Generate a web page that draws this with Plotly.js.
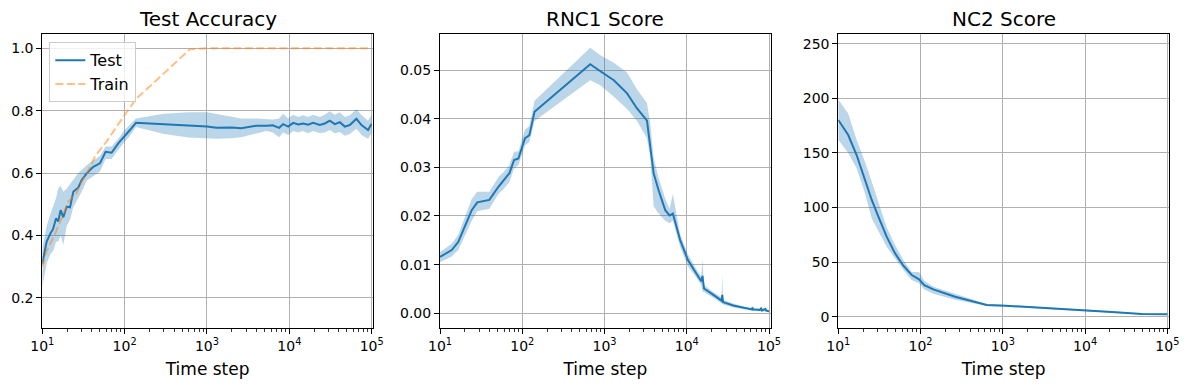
<!DOCTYPE html>
<html>
<head>
<meta charset="utf-8">
<script src="https://cdn.plot.ly/plotly-3.0.1.min.js"></script>
<style>html,body{margin:0;padding:0;background:#fff;}#chart{width:1189px;height:390px;}</style>
</head>
<body>
<div id="chart"></div>
<script>
// ---------- Data ----------
// Panel 1: Test Accuracy
const accSteps = [10, 11.3, 12.6, 13.5, 14.7, 15.6, 16.7, 18.0, 19.8, 21.7, 23.8, 27.4, 30.1, 34.6, 41.6, 50.1, 58.7, 69.5, 83.6, 101, 116, 137,
  300, 600, 1000, 1300, 2000, 2600, 4000, 5300, 6300, 7520, 8410, 9690, 11130, 12790, 14700, 16900, 19440, 23440, 26970, 30990,
  35640, 41000, 47170, 54210, 65330, 75130, 90400, 99500];
const accTest = [0.31, 0.38, 0.407, 0.42, 0.455, 0.445, 0.481, 0.458, 0.492, 0.49, 0.54, 0.554, 0.578, 0.599, 0.62, 0.631, 0.668, 0.665, 0.695, 0.722, 0.738, 0.761,
  0.757, 0.752, 0.749, 0.745, 0.746, 0.744, 0.752, 0.752, 0.753, 0.745, 0.757, 0.749, 0.761, 0.756, 0.759, 0.755, 0.761, 0.754, 0.759, 0.768,
  0.757, 0.763, 0.749, 0.754, 0.774, 0.754, 0.738, 0.757];
const accTestLo = [0.235, 0.31, 0.34, 0.35, 0.38, 0.38, 0.40, 0.37, 0.43, 0.45, 0.49, 0.52, 0.54, 0.575, 0.59, 0.605, 0.645, 0.645, 0.675, 0.70, 0.72, 0.748,
  0.725, 0.714, 0.711, 0.71, 0.712, 0.715, 0.727, 0.735, 0.73, 0.715, 0.73, 0.722, 0.735, 0.73, 0.735, 0.728, 0.735, 0.728, 0.73, 0.738,
  0.728, 0.732, 0.72, 0.725, 0.742, 0.722, 0.71, 0.728];
const accTestHi = [0.36, 0.43, 0.47, 0.49, 0.52, 0.55, 0.56, 0.54, 0.55, 0.565, 0.58, 0.60, 0.61, 0.625, 0.64, 0.655, 0.685, 0.685, 0.71, 0.74, 0.755, 0.775,
  0.79, 0.795, 0.795, 0.79, 0.782, 0.775, 0.775, 0.772, 0.772, 0.775, 0.79, 0.775, 0.787, 0.78, 0.785, 0.78, 0.787, 0.78, 0.787, 0.798,
  0.787, 0.795, 0.78, 0.785, 0.805, 0.786, 0.768, 0.786];
const trainSteps = [10, 11.3, 14, 17, 21, 26, 29, 35, 44, 60, 76, 98, 121.6, 140, 200, 300, 450, 620, 1000, 3000, 10000, 30000, 100000];
const accTrain = [0.30, 0.35, 0.40, 0.45, 0.51, 0.535, 0.565, 0.60, 0.655, 0.70, 0.738, 0.783, 0.818, 0.84, 0.877, 0.92, 0.963, 0.997, 1.0, 1.0, 1.0, 1.0, 1.0];

// Panel 2: RNC1 Score
const rncSteps = [10, 13.9, 16.7, 20.1, 24.3, 28.4, 39.8, 51.3, 59, 69.8, 79.5, 89.8, 108, 122, 141, 670, 900, 1297, 1880, 2485, 3280, 3600, 3950,
  4540, 5470, 6170, 6770, 8290, 10280, 12600, 15000, 15500, 16200, 21040, 26500, 27000, 27600, 36700, 48500, 62000, 63000, 64000, 77000,
  80000, 82000, 90000, 92000, 100000];
const rncMean = [0.0116, 0.0130, 0.0147, 0.0178, 0.0212, 0.0228, 0.0233, 0.0260, 0.0272, 0.0288, 0.0315, 0.0318, 0.0360, 0.0366, 0.0414, 0.0512, 0.0497, 0.0479, 0.0452, 0.0421, 0.0396, 0.0342, 0.0288,
  0.0253, 0.0212, 0.0201, 0.0205, 0.0151, 0.0110, 0.0086, 0.0066, 0.0077, 0.0051, 0.0038, 0.0026, 0.0038, 0.0023, 0.0016, 0.0011, 0.0008, 0.0012, 0.0008, 0.0007,
  0.0010, 0.0006, 0.0009, 0.0006, 0.0004];
const rncLo = [0.0105, 0.0117, 0.0130, 0.0158, 0.0190, 0.0210, 0.0215, 0.0245, 0.0255, 0.0270, 0.0298, 0.0305, 0.0345, 0.0352, 0.0395, 0.0479, 0.0468, 0.0445, 0.0420, 0.0395, 0.0360, 0.0320, 0.0220,
  0.0205, 0.0190, 0.0185, 0.0190, 0.0137, 0.0097, 0.0077, 0.0058, 0.0045, 0.0044, 0.0032, 0.0020, 0.0018, 0.0018, 0.0012, 0.0008, 0.0005, 0.0005, 0.0005, 0.0004,
  0.0004, 0.0003, 0.0003, 0.0003, 0.0002];
const rncHi = [0.0126, 0.0143, 0.0162, 0.0200, 0.0235, 0.0250, 0.0250, 0.0280, 0.0290, 0.0305, 0.0332, 0.0333, 0.0378, 0.0385, 0.0437, 0.0546, 0.0530, 0.0515, 0.0495, 0.0460, 0.0432, 0.0390, 0.0320,
  0.0278, 0.0236, 0.0215, 0.0245, 0.0163, 0.0122, 0.0095, 0.0075, 0.0110, 0.0058, 0.0044, 0.0032, 0.0080, 0.0028, 0.0020, 0.0014, 0.0011, 0.0016, 0.0011, 0.0010,
  0.0013, 0.0009, 0.0012, 0.0009, 0.0006];

// Panel 3: NC2 Score
const nc2Steps = [10, 13.2, 16.7, 21.1, 25.5, 30.7, 38.7, 49, 61.8, 78, 95.9, 111, 143, 263, 638, 1067, 2466, 4320, 10000, 21100, 48900, 100000];
const nc2Mean = [180.2, 166.4, 148.1, 125.2, 106.9, 91.6, 73.3, 58.0, 46.7, 38.2, 34.2, 29.0, 25.0, 18.3, 10.7, 10.1, 8.6, 7.3, 6.1, 4.3, 2.5, 2.2];
const nc2Lo = [162, 150, 136, 113, 90, 78, 64, 53.4, 42.7, 33.6, 30.5, 25, 21, 15.5, 9.8, 9.3, 7.9, 6.6, 5.4, 3.7, 2.0, 1.7];
const nc2Hi = [199, 186, 162, 142, 123.7, 105, 82, 65.6, 52, 41, 41, 33, 27.5, 21, 11.5, 10.9, 9.3, 8.0, 6.8, 4.9, 3.0, 2.7];

// Axis labels
const xTickVals = [10, 100, 1000, 10000, 100000];
const xTickText = ['10<sup>1</sup>', '10<sup>2</sup>', '10<sup>3</sup>', '10<sup>4</sup>', '10<sup>5</sup>'];
const titles = ['Test Accuracy', 'RNC1 Score', 'NC2 Score'];
const xLabel = 'Time step';

// ---------- Styling ----------
const BLUE = '#1f77b4';
const BAND = 'rgba(31,119,180,0.3)';
const ORANGE = 'rgba(255,127,14,0.5)';
const W = 1189, H = 390;
const minorVals = [];
for (let e = 1; e <= 5; e++) for (let m = 2; m <= 9; m++) minorVals.push(m * Math.pow(10, e));

function band(xs, lo, hi, xa, ya) {
  return [
    {x: xs, y: hi, xaxis: xa, yaxis: ya, mode: 'lines', line: {width: 0, color: BAND}, showlegend: false, hoverinfo: 'skip'},
    {x: xs, y: lo, xaxis: xa, yaxis: ya, mode: 'lines', line: {width: 0, color: BAND}, fill: 'tonexty', fillcolor: BAND, showlegend: false, hoverinfo: 'skip'}
  ];
}

const traces = [
  ...band(accSteps, accTestLo, accTestHi, 'x', 'y'),
  {x: accSteps, y: accTest, xaxis: 'x', yaxis: 'y', mode: 'lines', name: 'Test', line: {color: BLUE, width: 2}},
  {x: trainSteps, y: accTrain, xaxis: 'x', yaxis: 'y', mode: 'lines', name: 'Train', line: {color: ORANGE, width: 2, dash: '8px,3.5px'}},
  ...band(rncSteps, rncLo, rncHi, 'x2', 'y2'),
  {x: rncSteps, y: rncMean, xaxis: 'x2', yaxis: 'y2', mode: 'lines', showlegend: false, line: {color: BLUE, width: 2}},
  ...band(nc2Steps, nc2Lo, nc2Hi, 'x3', 'y3'),
  {x: nc2Steps, y: nc2Mean, xaxis: 'x3', yaxis: 'y3', mode: 'lines', showlegend: false, line: {color: BLUE, width: 2}}
];

const yDom = [1 - 328.3 / H, 1 - 34 / H];
const xDoms = [[42.3 / W, 373 / W], [440 / W, 770.7 / W], [838.3 / W, 1169 / W]];

function xAxis(i, rng, anchor) {
  return {
    domain: xDoms[i], anchor: anchor, type: 'log', range: rng,
    tickmode: 'array', tickvals: xTickVals, ticktext: xTickText,
    showgrid: true, gridcolor: '#b0b0b0', gridwidth: 1,
    showline: true, linecolor: 'black', linewidth: 1, mirror: true,
    ticks: 'outside', ticklen: 5, tickwidth: 1, tickcolor: 'black',
    tickfont: {size: 14, color: 'black'},
    minor: {tickmode: 'array', tickvals: minorVals, ticks: 'outside', ticklen: 3, tickwidth: 0.8, tickcolor: 'black', showgrid: false},
    zeroline: false, automargin: false,
    title: {text: xLabel, font: {size: 17, color: 'black'}, standoff: 10}
  };
}
function yAxis(rng, vals, fmt, anchor) {
  return {
    domain: yDom, anchor: anchor, range: rng,
    tickmode: 'array', tickvals: vals, tickformat: fmt,
    showgrid: true, gridcolor: '#b0b0b0', gridwidth: 1,
    showline: true, linecolor: 'black', linewidth: 1, mirror: true,
    ticks: 'outside', ticklen: 5, tickwidth: 1, tickcolor: 'black',
    tickfont: {size: 14, color: 'black'},
    zeroline: false, automargin: false
  };
}

const layout = {
  width: W, height: H,
  margin: {l: 0, r: 0, t: 0, b: 0},
  paper_bgcolor: 'white', plot_bgcolor: 'white',
  font: {family: 'DejaVu Sans', size: 14, color: 'black'},
  xaxis: xAxis(0, [1, 5.016], 'y'),
  yaxis: yAxis([0.102, 1.046], [0.2, 0.4, 0.6, 0.8, 1.0], '.1f', 'x'),
  xaxis2: xAxis(1, [1, 5.02], 'y2'),
  yaxis2: yAxis([-0.00308, 0.0574], [0, 0.01, 0.02, 0.03, 0.04, 0.05], '.2f', 'x2'),
  xaxis3: xAxis(2, [1, 5.02], 'y3'),
  yaxis3: yAxis([-10.6, 258.9], [0, 50, 100, 150, 200, 250], 'd', 'x3'),
  showlegend: true,
  legend: {
    x: 49.3 / W, y: 1 - 42.3 / H, xanchor: 'left', yanchor: 'top',
    traceorder: 'normal',
    bgcolor: 'rgba(255,255,255,0.8)', bordercolor: '#cccccc', borderwidth: 1,
    font: {size: 16, color: 'black'}
  },
  annotations: titles.map((t, i) => ({
    text: t, xref: 'paper', yref: 'paper',
    x: (xDoms[i][0] + xDoms[i][1]) / 2, y: 1 - 19 / H,
    xanchor: 'center', yanchor: 'middle', showarrow: false,
    font: {size: 20, color: 'black'}
  }))
};

Plotly.newPlot('chart', traces, layout, {staticPlot: true, displayModeBar: false});
</script>
</body>
</html>
